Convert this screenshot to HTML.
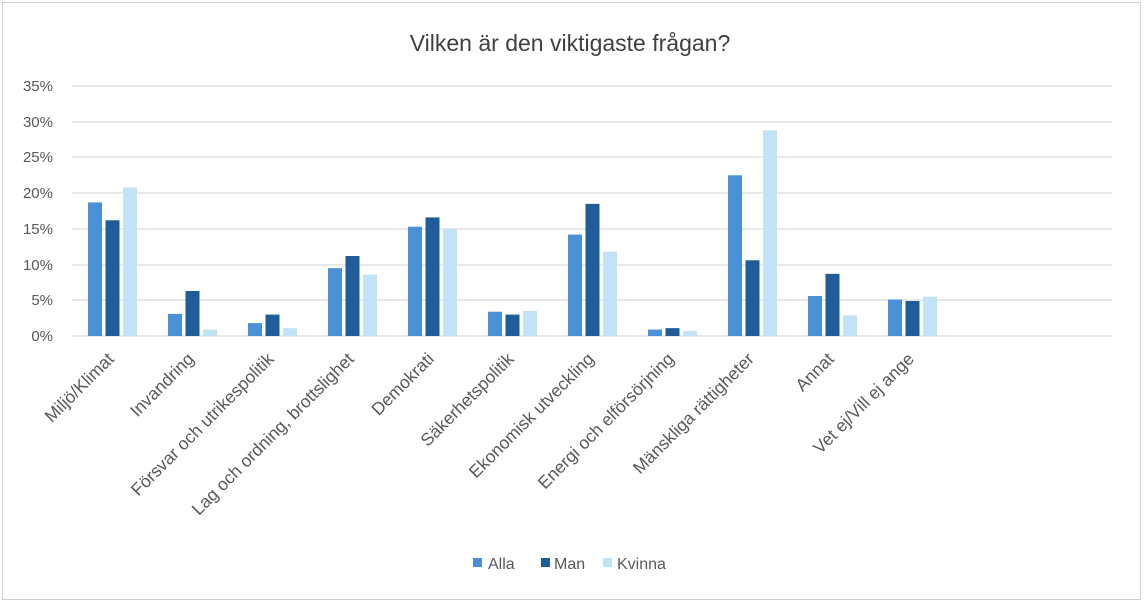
<!DOCTYPE html>
<html><head><meta charset="utf-8"><style>
body{margin:0;background:#fff;}
svg{display:block;font-family:"Liberation Sans",sans-serif;}
</style></head><body>
<svg width="1145" height="605" viewBox="0 0 1145 605">
<rect x="2.5" y="2.5" width="1138" height="597" fill="#fff" stroke="#d0d0d0" stroke-width="1"/>
<text x="570" y="51" font-size="23" fill="#404040" text-anchor="middle">Vilken är den viktigaste frågan?</text>
<g stroke="#d9d9d9" stroke-width="1.3">
<line x1="72" x2="1112" y1="86" y2="86"/><line x1="72" x2="1112" y1="122" y2="122"/>
<line x1="72" x2="1112" y1="157" y2="157"/><line x1="72" x2="1112" y1="193" y2="193"/>
<line x1="72" x2="1112" y1="229" y2="229"/><line x1="72" x2="1112" y1="265" y2="265"/>
<line x1="72" x2="1112" y1="300" y2="300"/><line x1="72" x2="1112" y1="336" y2="336"/>
</g>
<g font-size="15" fill="#595959" text-anchor="end">
<text x="53" y="91">35%</text><text x="53" y="127">30%</text><text x="53" y="162">25%</text>
<text x="53" y="198">20%</text><text x="53" y="234">15%</text><text x="53" y="270">10%</text>
<text x="53" y="305">5%</text><text x="53" y="341">0%</text>
</g>
<g id="bars"></g>
<g id="labels" font-size="17.5" fill="#595959" text-anchor="end"></g>
<g font-size="16" fill="#595959">
<rect x="473" y="558" width="9" height="9" fill="#4a90d9"/><text x="488" y="569">Alla</text>
<rect x="541" y="558" width="9" height="9" fill="#1f5c99"/><text x="554" y="569">Man</text>
<rect x="603" y="558" width="9" height="9" fill="#c0e4f5"/><text x="617" y="569">Kvinna</text>
</g>
<script>
var d=[["Miljö/Klimat",18.7,16.2,20.8],["Invandring",3.1,6.3,0.9],["Försvar och utrikespolitik",1.8,3.0,1.1],["Lag och ordning, brottslighet",9.5,11.2,8.6],["Demokrati",15.3,16.6,15.0],["Säkerhetspolitik",3.4,3.0,3.5],["Ekonomisk utveckling",14.2,18.5,11.8],["Energi och elförsörjning",0.9,1.1,0.7],["Mänskliga rättigheter",22.5,10.6,28.8],["Annat",5.6,8.7,2.9],["Vet ej/Vill ej ange",5.1,4.9,5.5]];
var c=["#4a90d9","#1f5c99","#c0e4f5"],ns="http://www.w3.org/2000/svg",b=document.getElementById("bars"),l=document.getElementById("labels");
d.forEach(function(r,i){var x0=88+80*i;for(var k=0;k<3;k++){var h=r[k+1]*250/35,e=document.createElementNS(ns,"rect");e.setAttribute("x",x0+k*17.5);e.setAttribute("y",336-h);e.setAttribute("width",14);e.setAttribute("height",h);e.setAttribute("fill",c[k]);b.appendChild(e);}
var t=document.createElementNS(ns,"text");var cx=115+80*i,cy=360;t.setAttribute("x",cx);t.setAttribute("y",cy);t.setAttribute("transform","rotate(-45 "+cx+" "+cy+")");t.textContent=r[0];l.appendChild(t);});
</script>
</svg>
</body></html>
